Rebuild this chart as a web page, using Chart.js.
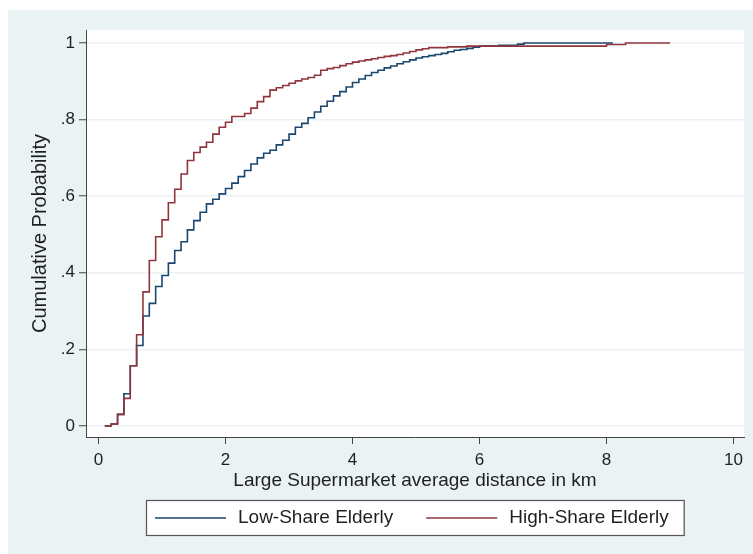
<!DOCTYPE html>
<html>
<head>
<meta charset="utf-8">
<script src="https://cdn.jsdelivr.net/npm/chart.js@4.4.1/dist/chart.umd.min.js"></script>
<style>
  html, body { margin: 0; padding: 0; background: #fff; }
</style>
</head>
<body>
<canvas id="cdfChart" width="753" height="554"></canvas>
<script>
// distances (km) where each empirical CDF steps, and the cumulative share after the step
const lowShareKm = [0.1, 0.2, 0.3, 0.4, 0.5, 0.6, 0.7, 0.8, 0.9, 1.0,
    1.1, 1.2, 1.3, 1.4, 1.5, 1.6, 1.7, 1.8, 1.9, 2.0,
    2.1, 2.2, 2.3, 2.4, 2.5, 2.6, 2.7, 2.8, 2.9, 3.0,
    3.1, 3.2, 3.3, 3.4, 3.5, 3.6, 3.7, 3.8, 3.9, 4.0,
    4.1, 4.2, 4.3, 4.4, 4.5, 4.6, 4.7, 4.8, 4.9, 5.0,
    5.1, 5.2, 5.3, 5.4, 5.5, 5.6, 5.7, 5.8, 5.9, 6.0,
    6.3, 6.6, 6.7, 8.1];
const lowShareCum = [0, 0.005, 0.03, 0.084, 0.157, 0.21, 0.287, 0.32, 0.364, 0.393,
    0.425, 0.458, 0.481, 0.512, 0.536, 0.558, 0.58, 0.592, 0.606, 0.62,
    0.634, 0.651, 0.667, 0.684, 0.70, 0.712, 0.72, 0.734, 0.746, 0.762,
    0.78, 0.79, 0.805, 0.82, 0.835, 0.848, 0.862, 0.873, 0.885, 0.897,
    0.906, 0.915, 0.923, 0.929, 0.935, 0.94, 0.946, 0.951, 0.956, 0.961,
    0.964, 0.967, 0.97, 0.973, 0.977, 0.981, 0.983, 0.986, 0.989, 0.992,
    0.994, 0.997, 1.0, 1.0];

const highShareKm = [0.1, 0.2, 0.3, 0.4, 0.5, 0.6, 0.7, 0.8, 0.9, 1.0,
    1.1, 1.2, 1.3, 1.4, 1.5, 1.6, 1.7, 1.8, 1.9, 2.0,
    2.1, 2.2, 2.3, 2.4, 2.5, 2.6, 2.7, 2.8, 2.9, 3.0,
    3.1, 3.2, 3.3, 3.4, 3.5, 3.6, 3.7, 3.8, 3.9, 4.0,
    4.1, 4.2, 4.3, 4.4, 4.5, 4.6, 4.7, 4.8, 4.9, 5.0,
    5.1, 5.2, 5.5, 5.8, 8.0, 8.3, 9.0];
const highShareCum = [0, 0.005, 0.03, 0.072, 0.157, 0.238, 0.35, 0.432, 0.494, 0.538,
    0.583, 0.618, 0.658, 0.693, 0.714, 0.728, 0.741, 0.762, 0.78, 0.793,
    0.808, 0.808, 0.816, 0.83, 0.847, 0.86, 0.877, 0.883, 0.889, 0.895,
    0.901, 0.906, 0.91, 0.916, 0.929, 0.933, 0.936, 0.941, 0.946, 0.95,
    0.953, 0.956, 0.959, 0.962, 0.965, 0.967, 0.97, 0.974, 0.978, 0.982,
    0.985, 0.988, 0.99, 0.992, 0.996, 1.0, 1.0];

const xTicks = [0, 2, 4, 6, 8, 10];
const yTicks = [0, 0.2, 0.4, 0.6, 0.8, 1];
const yTickLabels = ['0', '.2', '.4', '.6', '.8', '1'];

const FONT = '"Liberation Sans", Arial, sans-serif';
const INK = '#1f1f1f';
const REGION = '#EAF2F3';

const toPoints = (xs, ys) => xs.map((x, i) => ({ x, y: ys[i] }));

// graph region (light bluish) + white plot region, Stata style
const backdrop = {
    id: 'backdrop',
    beforeDraw(chart) {
        const { ctx, chartArea: a } = chart;
        ctx.save();
        ctx.fillStyle = '#fff';
        ctx.fillRect(0, 0, chart.width, chart.height);
        ctx.fillStyle = REGION;
        ctx.fillRect(8, 10, chart.width - 8, chart.height - 10);
        ctx.fillStyle = '#fff';
        ctx.fillRect(a.left, a.top, a.right - a.left, a.bottom - a.top);
        ctx.restore();
    }
};

// boxed legend under the axis title
const boxedLegend = {
    id: 'boxedLegend',
    afterDraw(chart) {
        const { ctx, chartArea: a } = chart;
        ctx.save();
        ctx.font = '19px ' + FONT;
        const items = chart.data.datasets.map(ds => ({ ds, w: ctx.measureText(ds.label).width }));
        const lineLen = 71, padL = 9, gap = 12, between = 33, padR = 15;
        const total = padL + padR + between * (items.length - 1)
            + items.reduce((s, it) => s + lineLen + gap + it.w, 0);
        const left = Math.round((a.left + a.right) / 2 - total / 2);
        const top = 500, h = 35, mid = top + h / 2 + 0.5;

        ctx.fillStyle = '#fff';
        ctx.fillRect(left, top, total, h);
        ctx.strokeStyle = '#555';
        ctx.lineWidth = 1.2;
        ctx.strokeRect(left + 0.5, top + 0.5, total, h);

        let x = left + padL;
        ctx.textBaseline = 'middle';
        items.forEach(it => {
            ctx.strokeStyle = it.ds.borderColor;
            ctx.lineWidth = 1.6;
            ctx.beginPath();
            ctx.moveTo(x, mid);
            ctx.lineTo(x + lineLen, mid);
            ctx.stroke();
            x += lineLen + gap;
            ctx.fillStyle = INK;
            ctx.fillText(it.ds.label, x, mid);
            x += it.w + between;
        });
        ctx.restore();
    }
};

new Chart(document.getElementById('cdfChart'), {
    type: 'line',
    data: {
        datasets: [
            {
                label: 'Low-Share Elderly',
                data: toPoints(lowShareKm, lowShareCum),
                borderColor: '#1A476F',
                borderWidth: 1.6,
                stepped: 'before',
                pointRadius: 0,
                order: 1
            },
            {
                label: 'High-Share Elderly',
                data: toPoints(highShareKm, highShareCum),
                borderColor: '#90353B',
                borderWidth: 1.6,
                stepped: 'before',
                pointRadius: 0,
                order: 0
            }
        ]
    },
    options: {
        responsive: false,
        devicePixelRatio: 1,
        animation: false,
        layout: { padding: { top: 30, right: 9, left: 0, bottom: 0 } },
        plugins: {
            legend: { display: false },
            tooltip: { enabled: false }
        },
        scales: {
            x: {
                type: 'linear',
                min: -0.197,
                max: 10.165,
                afterBuildTicks: s => { s.ticks = xTicks.map(v => ({ value: v })); },
                afterFit: s => { s.height = 117; },
                grid: { drawOnChartArea: false, tickLength: 7, tickColor: '#444', tickWidth: 1 },
                border: { color: '#444', width: 1 },
                ticks: { font: { family: FONT, size: 17 }, color: INK, padding: 6, maxRotation: 0 },
                title: {
                    display: true,
                    text: 'Large Supermarket average distance in km',
                    font: { family: FONT, size: 19 },
                    color: INK,
                    padding: { top: 0, bottom: 62 }
                }
            },
            y: {
                type: 'linear',
                min: -0.029,
                max: 1.034,
                afterBuildTicks: s => { s.ticks = yTicks.map(v => ({ value: v })); },
                afterFit: s => { s.width = 86; },
                grid: { color: REGION, lineWidth: 1.5, tickLength: 7, tickColor: '#444', tickWidth: 1 },
                border: { color: '#444', width: 1 },
                ticks: {
                    font: { family: FONT, size: 17 },
                    color: INK,
                    padding: 4,
                    callback: (v, i) => yTickLabels[i]
                },
                title: {
                    display: true,
                    text: 'Cumulative Probability',
                    font: { family: FONT, size: 20 },
                    color: INK,
                    padding: { top: 28, bottom: 0 }
                }
            }
        }
    },
    plugins: [backdrop, boxedLegend]
});
</script>
</body>
</html>
